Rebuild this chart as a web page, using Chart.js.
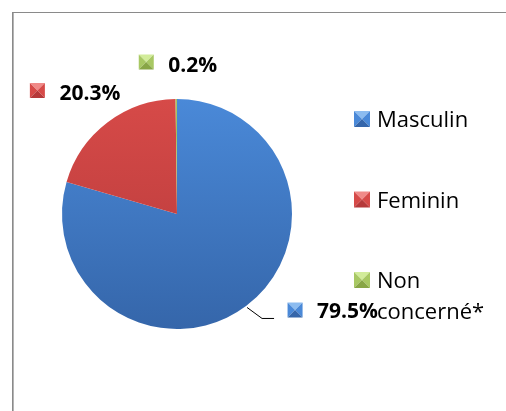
<!DOCTYPE html>
<html>
<head>
<meta charset="utf-8">
<script src="https://cdn.jsdelivr.net/npm/chart.js@4.4.1/dist/chart.umd.min.js"></script>
<style>
    html, body {margin: 0; padding: 0; background: #fff;}
    #wrap {position: relative; width: 506px; height: 411px; overflow: hidden;}
</style>
</head>
<body>
<div id="wrap"><canvas id="chartGender" width="506" height="411"></canvas></div>
<script>
const categories = ["Masculin", "Feminin", "Non concerné*"];
const legendLines = [["Masculin"], ["Feminin"], ["Non", "concerné*"]];
const percentages = [79.5, 20.3, 0.2];
const percentLabels = ["79.5%", "20.3%", "0.2%"];

const topColors = ["#4a89d8", "#d64a48", "#a8c863"];
const bottomColors = ["#3566aa", "#b5393a", "#88a646"];
const lightColors = ["#8cbcf0", "#f08a88", "#d2ec9a"];

const fontFamily = "'Open Sans', 'Liberation Sans', sans-serif";

function sliceGradient(context) {
    const chart = context.chart;
    const i = context.dataIndex;
    if (!chart.chartArea) {
        return topColors[i];
    }
    const {top, bottom} = chart.chartArea;
    const gradient = chart.ctx.createLinearGradient(0, top, 0, bottom);
    gradient.addColorStop(0, topColors[i]);
    gradient.addColorStop(1, bottomColors[i]);
    return gradient;
}

function triangle(ctx, ax, ay, bx, by, cx, cy, color) {
    ctx.beginPath();
    ctx.moveTo(ax, ay);
    ctx.lineTo(bx, by);
    ctx.lineTo(cx, cy);
    ctx.closePath();
    ctx.fillStyle = color;
    ctx.fill();
}

// small square with a pyramid bevel, like the office markers
function drawMarker(ctx, x, y, size, index) {
    const h = size / 2;
    ctx.save();
    triangle(ctx, x - h, y - h, x + h, y - h, x, y, lightColors[index]);
    triangle(ctx, x - h, y - h, x - h, y + h, x, y, topColors[index]);
    triangle(ctx, x + h, y - h, x + h, y + h, x, y, topColors[index]);
    triangle(ctx, x - h, y + h, x + h, y + h, x, y, bottomColors[index]);
    ctx.restore();
}

const framePlugin = {
    id: "frame",
    beforeDraw(chart) {
        const ctx = chart.ctx;
        ctx.save();
        ctx.fillStyle = "#8a8a8a";
        ctx.fillRect(12, 12, chart.width, 1);
        ctx.fillRect(12, 12, 1, chart.height);
        ctx.fillStyle = "#b4b4b4";
        ctx.fillRect(13, 13, 1, chart.height);
        ctx.restore();
    }
};

const labelsPlugin = {
    id: "sliceLabels",
    afterDraw(chart) {
        const ctx = chart.ctx;
        const arcs = chart.getDatasetMeta(0).data;
        // offsets of the label block from the point on the rim
        const offsets = [null, {dx: -70, dy: -23}, {dx: -30, dy: -28}];

        ctx.save();
        ctx.font = "bold 21px " + fontFamily;
        ctx.fillStyle = "#000";
        ctx.textBaseline = "alphabetic";

        arcs.forEach((arc, i) => {
            const {x, y, startAngle, endAngle, outerRadius} = arc.getProps(["x", "y", "startAngle", "endAngle", "outerRadius"], true);
            const mid = (startAngle + endAngle) / 2;
            const rimX = x + Math.cos(mid) * outerRadius;
            const rimY = y + Math.sin(mid) * outerRadius;

            if (i === 0) {
                ctx.strokeStyle = "#000";
                ctx.lineWidth = 1;
                ctx.beginPath();
                ctx.moveTo(rimX + 1, rimY + 1.5);
                ctx.lineTo(rimX + 16, rimY + 12.5);
                ctx.lineTo(rimX + 28, rimY + 12.5);
                ctx.stroke();
                drawMarker(ctx, rimX + 49, rimY + 4, 15, i);
                ctx.fillText(percentLabels[i], rimX + 71, rimY + 12);
                return;
            }
            const o = offsets[i];
            drawMarker(ctx, rimX + o.dx, rimY + o.dy - 9, 15, i);
            ctx.fillText(percentLabels[i], rimX + o.dx + 22, rimY + o.dy + 1);
        });
        ctx.restore();
    }
};

const legendPlugin = {
    id: "sideLegend",
    afterDraw(chart) {
        const ctx = chart.ctx;
        const left = 354;
        const firstY = 119;
        const step = 80.5;
        ctx.save();
        ctx.font = "22px " + fontFamily;
        ctx.fillStyle = "#000";
        ctx.textBaseline = "alphabetic";
        categories.forEach((name, i) => {
            const cy = firstY + i * step;
            drawMarker(ctx, left + 8, cy, 16, i);
            legendLines[i].forEach((line, j) => {
                ctx.fillText(line, left + 23, cy + 8 + j * 31);
            });
        });
        ctx.restore();
    }
};

new Chart(document.getElementById("chartGender"), {
    type: "pie",
    data: {
        labels: categories,
        datasets: [{
            data: percentages,
            backgroundColor: sliceGradient,
            borderWidth: 0,
        }],
    },
    options: {
        responsive: false,
        animation: false,
        layout: {
            padding: {left: 62, top: 99, right: 214, bottom: 82},
        },
        plugins: {
            legend: {display: false},
            tooltip: {enabled: false},
        },
    },
    plugins: [framePlugin, labelsPlugin, legendPlugin],
});
</script>
</body>
</html>
